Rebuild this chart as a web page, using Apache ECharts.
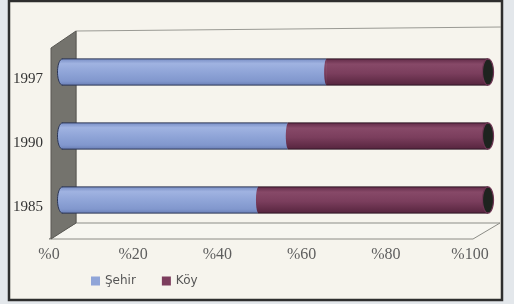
<!DOCTYPE html>
<html>
<head>
<meta charset="utf-8">
<script src="https://cdn.jsdelivr.net/npm/echarts@6/dist/echarts.min.js"></script>
<style>
html,body{margin:0;padding:0;background:#e3e7eb;}
#c{width:514px;height:304px;}
</style>
</head>
<body>
<div id="c"></div>
<script>
// ---- data ----
const years = ['1985', '1990', '1997'];
const sehir = [46, 53, 62];
const koy = [54, 47, 38];
const xTicks = [0, 20, 40, 60, 80, 100];
const seriesNames = ['Şehir', 'Köy'];

const chart = echarts.init(document.getElementById('c'), null, {renderer: 'canvas'});

function ellipsePts(cx, cy, rx, ry, a0, a1, n) {
  const pts = [];
  for (let i = 0; i <= n; i++) {
    const a = a0 + (a1 - a0) * i / n;
    pts.push([cx + rx * Math.cos(a), cy + ry * Math.sin(a)]);
  }
  return pts;
}

const blueGrad = new echarts.graphic.LinearGradient(0, 0, 0, 1, [
  {offset: 0, color: '#7a8fc6'}, {offset: 0.18, color: '#a0b3e1'},
  {offset: 0.5, color: '#90a5d8'}, {offset: 0.85, color: '#8197cd'}, {offset: 1, color: '#6b7fb6'}
]);
const redGrad = new echarts.graphic.LinearGradient(0, 0, 0, 1, [
  {offset: 0, color: '#632c49'}, {offset: 0.2, color: '#874968'},
  {offset: 0.55, color: '#7b3e5d'}, {offset: 1, color: '#57253f'}
]);

function makeRender(kind) {
  return function (params, api) {
    const cat = api.value(2);
    const p0 = api.coord([api.value(0), cat]);
    const p1 = api.coord([api.value(1), cat]);
    const h = api.size([0, 1])[1] * 0.41;
    const cy = p0[1];
    const top = cy - h / 2, bot = cy + h / 2;
    const fill = kind === 0 ? blueGrad : redGrad;
    const edge = kind === 0 ? '#2c3656' : '#2e1524';
    const ch = [];
    ch.push({type: 'rect', shape: {x: p0[0], y: top, width: p1[0] - p0[0], height: h}, style: {fill: fill}});
    if (kind === 0) {
      const arc = ellipsePts(p0[0] + 0.5, cy, 5, h / 2, Math.PI / 2, Math.PI * 1.5, 24);
      ch.push({type: 'polygon', shape: {points: arc}, style: {fill: fill}});
      ch.push({type: 'polyline', shape: {points: arc}, style: {stroke: edge, lineWidth: 1, fill: null}});
    } else {
      ch.push({type: 'polygon', shape: {points: ellipsePts(p0[0] + 0.5, cy, 2.5, h / 2, Math.PI / 2, Math.PI * 1.5, 16)},
        style: {fill: fill}});
    }
    ch.push({type: 'line', shape: {x1: p0[0], y1: top, x2: p1[0], y2: top}, style: {stroke: edge, lineWidth: 1}});
    ch.push({type: 'line', shape: {x1: p0[0], y1: bot, x2: p1[0], y2: bot}, style: {stroke: edge, lineWidth: 1}});
    if (kind === 1) {
      ch.push({type: 'polygon', shape: {points: ellipsePts(p1[0], cy, 5.5, h / 2, 0, Math.PI * 2, 32)},
        style: {fill: '#1e231f', stroke: '#6e3553', lineWidth: 1.2}});
    }
    return {type: 'group', children: ch};
  };
}

function frameRender(params, api) {
  const cs = params.coordSys;
  const L = cs.x, T = cs.y, R = cs.x + cs.width, B = cs.y + cs.height;
  const dx = 27, dy = -16;
  return {type: 'group', children: [
    {type: 'polygon', shape: {points: [[L, B], [R + 3, B], [R + dx + 3, B + dy], [L + dx, B + dy]]},
      style: {fill: '#f7f6f0', stroke: '#8c8c86', lineWidth: 1}},
    {type: 'line', shape: {x1: L + dx, y1: T + dy, x2: R + dx + 4, y2: T + dy - 4}, style: {stroke: '#9a9a94', lineWidth: 1}},
    {type: 'line', shape: {x1: L + dx, y1: T + dy, x2: L + dx, y2: B + dy}, style: {stroke: '#8c8c86', lineWidth: 1}},
    {type: 'polygon', shape: {points: [[L + 2, B], [L + 2, T + 1], [L + dx, T + dy], [L + dx, B + dy]]},
      style: {fill: '#74736d', stroke: '#5a5954', lineWidth: 1}}
  ]};
}

const option = {
  animation: false,
  backgroundColor: 'transparent',
  graphic: [{
    type: 'rect', z: -10, silent: true,
    shape: {x: 9, y: 1, width: 493, height: 299},
    style: {fill: '#f6f4ed', stroke: '#2e2e2e', lineWidth: 2.5}
  }],
  legend: {
    data: seriesNames,
    left: 86, top: 270,
    icon: 'rect', itemWidth: 9, itemHeight: 9, itemGap: 26,
    textStyle: {fontFamily: 'DejaVu Sans', fontSize: 12, color: '#555555'}
  },
  grid: [
    {left: 62, top: 40, width: 426, height: 192},
    {left: 49, top: 47, width: 421, height: 192}
  ],
  xAxis: [
    {gridIndex: 0, type: 'value', min: 0, max: 100, show: false},
    {gridIndex: 1, type: 'value', min: xTicks[0], max: xTicks[xTicks.length - 1], interval: 20,
      axisLine: {show: false}, axisTick: {show: false}, splitLine: {show: false},
      axisLabel: {margin: 8, formatter: v => '%' + v,
        fontFamily: 'Liberation Serif', fontSize: 16, color: '#5e5e5e'}}
  ],
  yAxis: [
    {gridIndex: 0, type: 'category', data: years, show: false},
    {gridIndex: 1, type: 'category', data: years,
      axisLine: {show: false}, axisTick: {show: false}, splitLine: {show: false},
      axisLabel: {margin: 6, fontFamily: 'Liberation Serif', fontSize: 15, color: '#333333'}}
  ],
  series: [
    {type: 'custom', name: '__frame', xAxisIndex: 1, yAxisIndex: 1, z: 1, silent: true,
      renderItem: frameRender, data: [[0, 0]], encode: {x: 0, y: 1}},
    {type: 'custom', name: seriesNames[0], xAxisIndex: 0, yAxisIndex: 0, z: 3,
      itemStyle: {color: '#90a5d8'},
      renderItem: makeRender(0),
      data: sehir.map((v, i) => [0, v, i]), encode: {x: [0, 1], y: 2}},
    {type: 'custom', name: seriesNames[1], xAxisIndex: 0, yAxisIndex: 0, z: 3,
      itemStyle: {color: '#7c3d5d'},
      renderItem: makeRender(1),
      data: koy.map((v, i) => [sehir[i], sehir[i] + v, i]), encode: {x: [0, 1], y: 2}}
  ]
};
chart.setOption(option);
</script>
</body>
</html>
